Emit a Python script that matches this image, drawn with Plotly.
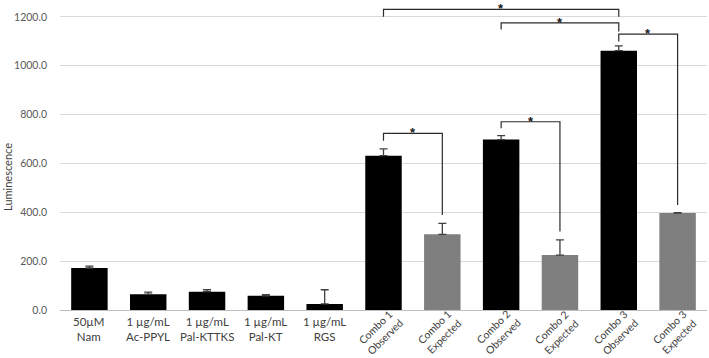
import plotly.graph_objects as go

# ---- data ----
categories = ["50µM<br>Nam", "1 µg/mL<br>Ac-PPYL", "1 µg/mL<br>Pal-KTTKS", "1 µg/mL<br>Pal-KT",
              "1 µg/mL<br>RGS", "Combo 1<br>Observed", "Combo 1<br>Expected", "Combo 2<br>Observed",
              "Combo 2<br>Expected", "Combo 3<br>Observed", "Combo 3<br>Expected"]
values = [172, 65, 75, 58, 25, 632, 310, 698, 225, 1062, 397]
errors = [8, 8, 8, 5, 58, 28, 45, 16, 62, 20, 2]
rotated = [False] * 5 + [True] * 6
bar_colors = ["#000000"] * 5 + ["#000000", "#7f7f7f"] * 3
y_ticks = [0, 200, 400, 600, 800, 1000, 1200]

# significance brackets: (from idx, to idx, bracket height, left leg end, right leg end)
br_from = [5, 7, 9, 5, 7]
br_to = [9, 9, 10, 6, 8]
br_top = [1231, 1176, 1130, 723, 771]
br_left_end = [1201, 1149, 1100, 693, 744]
br_right_end = [1201, 1140, 430, 389, 321]
br_label = ["*", "*", "*", "*", "*"]

fig = go.Figure()
fig.add_trace(go.Bar(
    x=categories, y=values, marker=dict(color=bar_colors, line=dict(width=0)),
    width=0.62,
    error_y=dict(type="data", symmetric=False, array=errors, arrayminus=[0] * len(errors),
                 color="#404040", thickness=1.3, width=4),
    showlegend=False, hoverinfo="skip"))

for a, b, top, le, re in zip(br_from, br_to, br_top, br_left_end, br_right_end):
    fig.add_trace(go.Scatter(
        x=[categories[a], categories[a], categories[b], categories[b]],
        y=[le, top, top, re], mode="lines",
        line=dict(color="#2b2b2b", width=1.2), showlegend=False, hoverinfo="skip"))

annotations = []
for a, b, top, lab in zip(br_from, br_to, br_top, br_label):
    annotations.append(dict(x=(a + b) / 2, y=top, xref="x", yref="y", text="<b>" + lab + "</b>",
                            showarrow=False, yanchor="top", yshift=9, borderpad=0,
                            font=dict(size=13, color="#1a1a1a", family="Liberation Sans")))

for i, (cat, rot) in enumerate(zip(categories, rotated)):
    if rot:
        annotations.append(dict(x=i, y=0, xref="x", yref="y", text=cat, showarrow=False,
                                textangle=-45, xanchor="center", yanchor="middle",
                                xshift=-3, yshift=-22, borderpad=0,
                                font=dict(size=10.5, color="#404040", family="Lato")))
    else:
        annotations.append(dict(x=i, y=0, xref="x", yref="y", text=cat, showarrow=False,
                                xanchor="center", yanchor="top", yshift=-3,
                                font=dict(size=11.5, color="#404040", family="Lato")))

annotations.append(dict(x=0, y=545, xref="paper", yref="y", text="Luminescence", showarrow=False,
                        textangle=-90, xanchor="center", yanchor="middle", xshift=-52,
                        font=dict(size=11, color="#404040", family="Lato")))

fig.update_layout(
    width=709, height=358, margin=dict(l=60, r=2, t=0, b=48),
    paper_bgcolor="white", plot_bgcolor="white",
    annotations=annotations,
    xaxis=dict(type="category", showticklabels=False, showgrid=False, zeroline=False,
               showline=False, ticks=""),
    yaxis=dict(range=[0, 1269.5], tickvals=y_ticks, tickformat=".1f",
               showgrid=True, gridcolor="#d9d9d9", gridwidth=1,
               zeroline=True, zerolinecolor="#bfbfbf", zerolinewidth=1.3,
               ticks="", ticklabelstandoff=12,
               tickfont=dict(size=10.5, color="#595959", family="Lato")),
)

fig.write_html("out.html", config={"displayModeBar": False},
               post_script="document.body.style.margin='0';")
